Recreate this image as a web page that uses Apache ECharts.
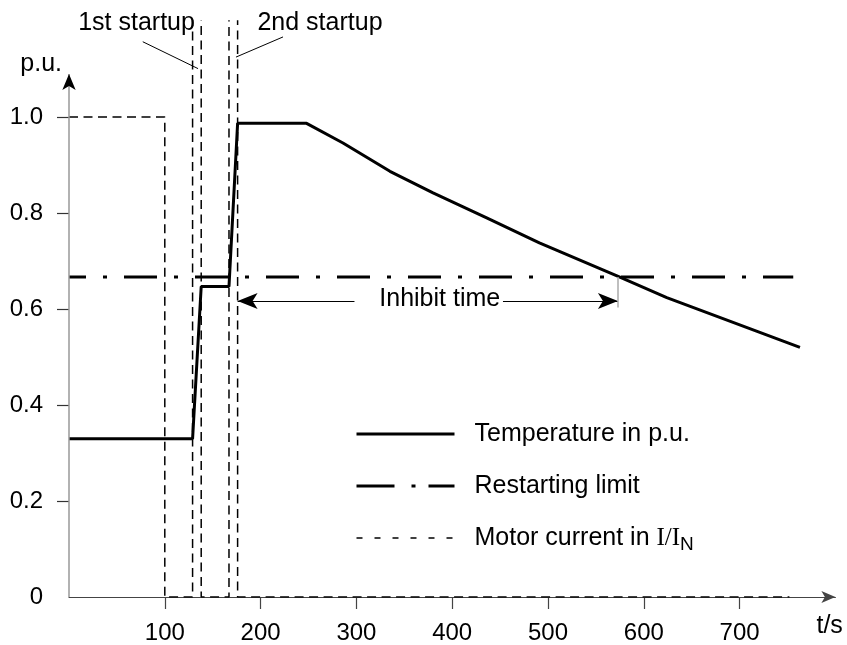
<!DOCTYPE html>
<html>
<head>
<meta charset="utf-8">
<script src="https://cdn.jsdelivr.net/npm/echarts@6/dist/echarts.min.js"></script>
<style>
html,body{margin:0;padding:0;background:#fff;}
#chart{width:847px;height:645px;}
</style>
</head>
<body>
<div id="chart"></div>
<script>
// ---- data ----
const tempT = [0, 129, 138, 167, 176, 248, 286, 335, 380, 436, 491, 572, 624, 763];
const tempV = [0.33, 0.33, 0.647, 0.647, 0.987, 0.987, 0.946, 0.887, 0.842, 0.79, 0.738, 0.669, 0.624, 0.52];
const currentT = [0, 100, 100, 129, 129, 138, 138, 167, 167, 176, 176, 752];
const currentV = [1, 1, 0, 0, 6, 6, 0, 0, 6, 6, 0, 0];
const limitT = [0, 756];
const limitV = [0.667, 0.667];
const xTicks = [100, 200, 300, 400, 500, 600, 700];
const yTicks = [0.2, 0.4, 0.6, 0.8, 1.0];
const yLabels = [0, 0.2, 0.4, 0.6, 0.8, 1.0];
const inhibitStart = 176, inhibitEnd = 573, inhibitLevel = 0.617;
const names = ['Temperature in p.u.', 'Restarting limit', 'Motor current in I/IN'];

const zip = (a, b) => a.map((v, i) => [v, b[i]]);
const FONT = 'Liberation Sans';

const chart = echarts.init(document.getElementById('chart'), null, {renderer: 'canvas'});
const option = {
  animation: false,
  backgroundColor: '#fff',
  grid: {left: 69, right: 11.6, top: 21.1, bottom: 46.7},
  xAxis: {
    type: 'value', min: 0, max: 800, interval: 100,
    splitLine: {show: false},
    axisLine: {show: true, lineStyle: {color: '#444', width: 1.2}, symbol: ['none', 'arrow'], symbolSize: [9, 14]},
    axisTick: {show: true, customValues: xTicks, length: 12, lineStyle: {color: '#444', width: 1.2}},
    axisLabel: {customValues: xTicks, margin: 24, fontSize: 24, fontFamily: FONT, color: '#000'}
  },
  yAxis: {
    type: 'value', min: 0, max: 1.2, interval: 0.2,
    splitLine: {show: false},
    axisLine: {show: false},
    axisTick: {show: true, customValues: yTicks, length: 12, lineStyle: {color: '#333', width: 1.2}},
    axisLabel: {customValues: yLabels, margin: 26, fontSize: 24, fontFamily: FONT, color: '#000',
      formatter: v => (v === 0 ? '0' : v.toFixed(1))}
  },
  legend: {
    orient: 'vertical', left: 355, top: 419, padding: 0, itemWidth: 98, itemHeight: 14, itemGap: 22,
    selectedMode: false,
    itemStyle: {color: 'rgba(0,0,0,0)', borderWidth: 0},
    data: [
      {name: names[0], lineStyle: {width: 3, type: 'solid', color: '#000'}},
      {name: names[1], lineStyle: {width: 3, type: [38, 17, 4, 13], dashOffset: 0, color: '#000'}},
      {name: names[2], lineStyle: {width: 1.5, type: [6, 12], dashOffset: 0, color: '#000'}}
    ],
    formatter: n => (n === names[2] ? 'Motor current in {s|I/I}{sub|N}' : n),
    textStyle: {
      fontFamily: FONT, fontSize: 25, color: '#000', padding: [0, 0, 0, 15], lineHeight: 30,
      rich: {
        s: {fontFamily: 'Liberation Serif', fontSize: 25, color: '#000', lineHeight: 30},
        sub: {fontFamily: FONT, fontSize: 19, color: '#000', padding: [14, 0, 0, 0]}
      }
    }
  },
  series: [
    {
      name: names[1], type: 'line', data: zip(limitT, limitV), symbol: 'none', silent: true,
      lineStyle: {color: '#000', width: 3, type: [33, 17, 4, 17], dashOffset: 16}, z: 2
    },
    {
      name: names[2], type: 'line', data: zip(currentT, currentV), symbol: 'none', silent: true,
      lineStyle: {color: '#000', width: 1.5, type: [9, 5.5]}, z: 3
    },
    {
      name: names[0], type: 'line', data: zip(tempT, tempV), symbol: 'none', silent: true,
      lineStyle: {color: '#000', width: 3}, z: 4
    },
    {
      name: 'helper', type: 'line', data: [], silent: true, z: 5,
      markLine: {
        silent: true, symbol: 'none', symbolSize: [12, 20], label: {show: false}, animation: false,
        lineStyle: {type: 'solid', color: '#000', width: 1},
        data: [
          [{coord: [0, 0], lineStyle: {color: '#999', width: 1.5, type: 'solid'}}, {coord: [0, 1.09]}],
          [{coord: [77, 1.157]}, {coord: [134.7, 1.101]}],
          [{coord: [223.4, 1.167]}, {coord: [174.3, 1.125]}],
          [{coord: [inhibitStart, inhibitLevel], symbol: 'arrow'}, {coord: [298, inhibitLevel], symbol: 'none'}],
          [{coord: [453, inhibitLevel], symbol: 'none'}, {coord: [inhibitEnd, inhibitLevel], symbol: 'arrow'}],
          [{coord: [inhibitEnd, 0.667], lineStyle: {color: '#aaa', width: 1.5, type: 'solid'}}, {coord: [inhibitEnd, 0.603]}]
        ]
      },
      markPoint: {
        silent: true, animation: false, symbol: 'arrow', symbolSize: [10, 16],
        itemStyle: {color: '#000'}, label: {show: false},
        data: [{coord: [0, 1.09]}]
      }
    }
  ]
};
chart.setOption(option);

// annotation texts placed through the chart's own coordinate conversion
const texts = [
  {text: '1st startup', at: [70.5, 1.196]},
  {text: '2nd startup', at: [262, 1.196]},
  {text: 'Inhibit time', at: [387, 0.62]},
  {text: 'p.u.', at: [-29, 1.11]},
  {text: 't/s', at: [794, -0.061]}
];
chart.setOption({
  graphic: texts.map(t => {
    const p = chart.convertToPixel({gridIndex: 0}, t.at);
    return {
      type: 'text', x: p[0], y: p[1], silent: true, z: 10,
      style: {text: t.text, fill: '#000', font: '25px "' + FONT + '"', textAlign: 'center', textVerticalAlign: 'middle'}
    };
  })
});
</script>
</body>
</html>
